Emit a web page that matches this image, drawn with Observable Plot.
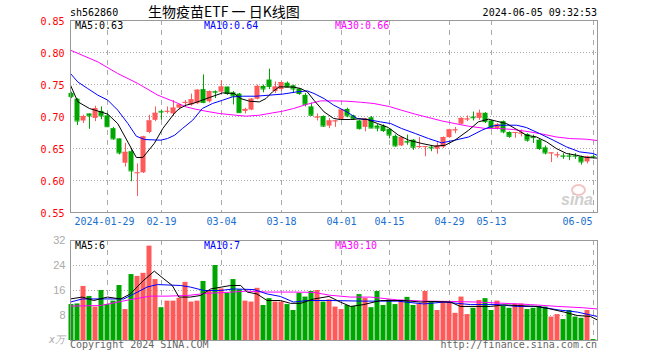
<!DOCTYPE html>
<html><head><meta charset="utf-8">
<script src="https://cdn.jsdelivr.net/npm/d3@7"></script>
<script src="https://cdn.jsdelivr.net/npm/@observablehq/plot@0.6"></script>
<style>
html,body{margin:0;padding:0;background:#fff;}
#wrap{position:relative;width:660px;height:360px;overflow:hidden;font-family:"DejaVu Sans Mono",monospace;font-size:10px;}
.t{position:absolute;white-space:nowrap;line-height:10px;}
#p1,#p2{position:absolute;left:0;}
#p1{top:0}#p2{top:232px}
#logo{position:absolute;left:571px;top:184px;width:11px;height:8px;border:2px solid #f3c4c4;border-radius:50%;}
</style></head><body>
<div id="wrap">
 <div id="p1"></div><div id="p2"></div>
 <div id="logo"></div>
 <div class="t" style="left:561px;top:193px;color:#cfcfcf;font-family:'Liberation Sans';font-style:italic;font-weight:bold;font-size:16px;line-height:14px">sina</div>
 <div class="t" style="left:70px;top:8px;color:#000">sh562860</div>
 <div class="t" style="left:148px;top:4px;width:151px;text-align:center;font-family:'Noto Sans CJK SC';font-size:14px;line-height:14px;color:#000">生物疫苗ETF&nbsp;一&nbsp;日K线图</div>
 <div class="t" style="right:63px;top:8px;color:#000">2024-06-05 09:32:53</div>
 <div class="t" style="left:75px;top:21px;color:#000">MA5:0.63</div>
 <div class="t" style="left:204px;top:21px;color:#0000ff">MA10:0.64</div>
 <div class="t" style="left:335px;top:21px;color:#ff00ff">MA30:0.66</div>
 <div class="t" style="left:75px;top:241px;color:#000">MA5:6</div>
 <div class="t" style="left:204px;top:241px;color:#0000ff">MA10:7</div>
 <div class="t" style="left:335px;top:241px;color:#ff00ff">MA30:10</div>
 <div class="t" style="left:49px;top:335px;color:#aaa;font-style:italic">x万</div>
 <div class="t" style="left:70px;top:340px;color:#666">Copyright 2024 SINA.COM</div>
 <div class="t" style="right:63px;top:340px;color:#666">http://finance.sina.com.cn</div>
</div>
<script>
// ---- data ----
const tickIdx = [6,15,25,35,45,53,63,70,87];
const tickLbl = ["2024-01-29","02-19","03-04","03-18","04-01","04-15","04-29","05-13","06-05"];
const priceTicks = [0.55,0.60,0.65,0.70,0.75,0.80,0.85];
const volTicks = [8,16,24,32];

const open = [0.736,0.727,0.693,0.704,0.697,0.708,0.701,0.681,0.665,0.627,
0.645,0.6115,0.612,0.675,0.694,0.708,0.7075,0.704,0.713,0.721,
0.718,0.720,0.742,0.723,0.739,0.738,0.746,0.737,0.735,0.708,
0.710,0.727,0.747,0.757,0.739,0.742,0.752,0.748,0.743,0.733,
0.715,0.698,0.700,0.685,0.692,0.695,0.711,0.701,0.693,0.683,
0.698,0.685,0.685,0.680,0.669,0.654,0.661,0.663,0.652,0.6525,
0.652,0.649,0.652,0.667,0.678,0.688,0.695,0.699,0.697,0.705,
0.693,0.681,0.692,0.675,0.674,0.673,0.672,0.668,0.663,0.651,
0.642,0.639,0.6385,0.6385,0.6385,0.637,0.629,0.6375];
const high = [0.738,0.728,0.702,0.704,0.716,0.715,0.705,0.683,0.665,0.658,
0.650,0.626,0.669,0.702,0.715,0.710,0.715,0.725,0.719,0.725,
0.735,0.742,0.765,0.740,0.740,0.756,0.746,0.739,0.736,0.713,
0.728,0.749,0.749,0.774,0.754,0.754,0.754,0.749,0.744,0.736,
0.721,0.704,0.701,0.697,0.694,0.711,0.713,0.702,0.694,0.697,
0.700,0.688,0.687,0.681,0.671,0.667,0.671,0.664,0.667,0.653,
0.654,0.659,0.668,0.680,0.683,0.698,0.701,0.707,0.710,0.706,
0.694,0.689,0.693,0.676,0.675,0.679,0.673,0.671,0.664,0.654,
0.643,0.644,0.642,0.642,0.642,0.638,0.638,0.639];
const low = [0.728,0.686,0.689,0.680,0.692,0.695,0.683,0.663,0.640,0.621,
0.598,0.575,0.611,0.673,0.692,0.694,0.704,0.700,0.710,0.715,
0.716,0.719,0.720,0.721,0.728,0.736,0.733,0.718,0.705,0.704,
0.709,0.726,0.737,0.742,0.736,0.739,0.745,0.736,0.733,0.715,
0.700,0.693,0.683,0.681,0.683,0.694,0.698,0.694,0.679,0.676,
0.681,0.676,0.675,0.665,0.652,0.653,0.655,0.647,0.650,0.637,
0.645,0.641,0.650,0.666,0.673,0.687,0.692,0.693,0.694,0.689,
0.679,0.679,0.673,0.666,0.666,0.668,0.660,0.658,0.647,0.640,
0.628,0.635,0.633,0.631,0.633,0.624,0.626,0.634];
const close = [0.731,0.693,0.700,0.701,0.712,0.701,0.684,0.665,0.643,0.644,
0.615,0.612,0.668,0.693,0.705,0.707,0.708,0.713,0.718,0.722,
0.726,0.741,0.722,0.739,0.738,0.746,0.736,0.732,0.706,0.711,
0.727,0.747,0.743,0.747,0.746,0.753,0.746,0.743,0.736,0.719,
0.702,0.699,0.685,0.693,0.693,0.710,0.701,0.696,0.681,0.696,
0.682,0.682,0.678,0.671,0.654,0.667,0.660,0.652,0.653,0.653,
0.651,0.654,0.667,0.679,0.679,0.697,0.696,0.698,0.705,0.692,
0.683,0.687,0.676,0.669,0.675,0.674,0.663,0.667,0.650,0.643,
0.643,0.640,0.638,0.638,0.638,0.629,0.637,0.637];
const volume = [11.5,11.7,17.3,14.1,10.7,16.0,11.5,12.6,17.6,9.9,
21.1,20.5,21.5,30.2,19.5,10.5,12.6,12.6,13.5,18.6,
12.3,12.6,18.9,15.7,24.0,16.5,15.1,19.5,16.2,12.6,
12.3,16.7,11.2,13.4,12.3,12.3,11.5,9.6,15.1,13.9,
15.7,16.0,12.3,13.0,10.7,9.9,11.2,10.9,14.7,13.5,
10.5,15.7,11.2,13.0,11.5,12.8,13.8,11.2,11.5,15.7,
12.3,9.6,12.3,12.3,8.7,13.9,8.3,10.3,12.8,13.4,
9.6,12.6,10.9,10.3,11.7,11.7,9.9,10.3,10.9,10.7,
7.5,8.3,6.7,9.6,7.5,7.1,9.6,0.3];

// moving-average lines at positions along the x axis: [position, value]
const ma5 = [[-0.17,0.749],[1.05,0.723],[3,0.7125],[4.95,0.707],[6.05,0.7036],[7.7,0.689],[9.4,0.660],[10.8,0.636],[11.9,0.636],[13.8,0.658],[15.2,0.681],[17.2,0.7056],[18,0.7125],[19.1,0.7177],[20.2,0.7203],[21.8,0.7255],[23,0.7297],[25.2,0.7369],[27.1,0.736],[28.2,0.728],[29.6,0.724],[31.3,0.7228],[32.4,0.728],[33.5,0.7385],[34.6,0.7463],[37,0.746],[38.2,0.7437],[39.3,0.7385],[40.4,0.7255],[42.1,0.7072],[43.7,0.6969],[44.8,0.6953],[46.5,0.6953],[47.9,0.6963],[49.3,0.6953],[51,0.689],[52.8,0.6828],[54.5,0.6708],[56.2,0.663],[58.4,0.6578],[60.6,0.6536],[62.3,0.6552],[63.9,0.663],[66.2,0.6786],[67.8,0.6916],[69.5,0.6958],[70.8,0.6927],[72.5,0.689],[74.2,0.6797],[75.8,0.6708],[77.5,0.668],[79.2,0.6603],[80.8,0.650],[82.5,0.6422],[84.2,0.6395],[85.8,0.636],[87.6,0.635]];
const ma10 = [[-0.17,0.7672],[1.05,0.754],[2.7,0.7437],[4.4,0.7333],[6.05,0.7255],[7.7,0.71],[9.4,0.689],[10.8,0.6692],[12.2,0.664],[14.9,0.663],[16,0.6656],[17.2,0.6708],[18.5,0.6813],[20.2,0.6942],[21.8,0.7125],[23.5,0.7203],[25.2,0.7255],[26.8,0.7306],[28.5,0.7317],[30.7,0.7317],[32.9,0.7333],[35.2,0.735],[37.6,0.7385],[39.3,0.740],[40.4,0.736],[42.1,0.728],[43.7,0.7177],[45.9,0.7072],[47.6,0.6969],[49.3,0.6953],[51.5,0.6916],[53.2,0.689],[55,0.6813],[57.3,0.6734],[59.5,0.6656],[61.7,0.6588],[63.9,0.663],[66.2,0.668],[68.4,0.6786],[70,0.6848],[71.2,0.6864],[74.2,0.6864],[75.8,0.6828],[78,0.6734],[80.3,0.663],[82.5,0.6525],[84.7,0.6447],[86.9,0.6422],[87.6,0.6395]];
const ma30 = [[-0.17,0.8036],[4.4,0.7853],[7.7,0.7672],[11.05,0.7516],[14.4,0.7333],[17.2,0.7228],[19.1,0.715],[20.7,0.7114],[22.4,0.7083],[24.6,0.7047],[27.4,0.702],[29.1,0.7005],[31.3,0.702],[33.5,0.7056],[35.2,0.7083],[37,0.7125],[39.3,0.7192],[41.5,0.7244],[43.7,0.7244],[45.9,0.7239],[48.2,0.7223],[50.4,0.7203],[53,0.7155],[55,0.7098],[57.3,0.7036],[59.5,0.6984],[61.7,0.6931],[63.9,0.689],[66.2,0.6848],[69,0.6813],[71.2,0.6813],[73.6,0.6797],[76.4,0.676],[78.6,0.6723],[80.8,0.668],[83,0.6656],[85.8,0.6645],[87.6,0.6625]];
const vma5 = [[-0.17,13.3],[1.8,13.9],[3.7,12.8],[6,13.9],[8.2,13.3],[9.8,14.9],[12,19.2],[13.8,22.2],[15.4,19.7],[16.8,17.6],[17.9,13.9],[19.8,13.9],[21.5,14.4],[23.2,16.5],[26.5,17.6],[28.2,17.6],[29.3,15.5],[30.9,14.9],[32.6,12.8],[34.8,12.8],[36.5,11.9],[38.2,11.9],[40.4,13.3],[42.9,14.1],[44.8,12.3],[46.5,10.9],[48.7,11.5],[51.5,12.8],[55.4,12.8],[58.2,12.3],[59.8,12.5],[63.2,12.3],[64.8,10.9],[67.6,10.9],[69.8,10.9],[72.1,11.4],[74.3,11.2],[77.6,10.9],[79.8,10.1],[82.1,9.1],[84.3,8.0],[86.5,7.7],[87.6,6.6]];
const vma10 = [[-0.17,12.3],[1.8,13.3],[4.8,13.3],[8.7,13.3],[10.4,14.9],[12.6,17.1],[14.3,17.9],[18.2,17.6],[19.8,17.1],[22.1,16],[24.8,16],[27,16.5],[30.4,16.3],[32.6,14.9],[34.8,14.1],[37,12.3],[39.3,12.8],[43,12.8],[48.7,12.6],[54.3,12.6],[58.7,11.7],[62.1,12.3],[66.5,11.5],[70.9,11.5],[74.3,10.9],[77.6,10.9],[81.1,9.8],[84.3,9.1],[87.6,7.7]];
const vma30 = [[-0.17,11],[4.8,11.2],[10.4,13.3],[13.2,14.2],[15.9,14.2],[19.3,14.4],[22.6,15.1],[25.9,15.4],[29.3,15.8],[32.6,15.5],[37,15.5],[40.4,15.4],[43,14.5],[46.5,13.9],[49.8,13.9],[54.3,13],[58.7,12.6],[63.2,12.5],[67.6,12.3],[72.1,11.9],[76.5,11.5],[81.1,10.9],[85.1,10.5],[87.6,10.1]];

// ---- styling ----
const RED = "#ff5a5a", GREEN = "#00a600", GRID = "#aaaaaa", FRAME = "#999999";
const MONO = "DejaVu Sans Mono";
const X0 = -1/6, X1 = 87 + 2/3;
const HW = 2.5/6;

const candles = open.map((o,i)=>({i, o, h:high[i], l:low[i], c:close[i], v:volume[i], up: close[i] >= o}));
const ups = candles.filter(d=>d.up), downs = candles.filter(d=>!d.up);

function candleMarks(data, color){
  return [
    Plot.ruleX(data, {x:"i", y1:"l", y2:"h", stroke:color, strokeWidth:1}),
    Plot.rect(data, {x1:d=>d.i-HW, x2:d=>d.i+HW, y1:d=>Math.min(d.o,d.c), y2:d=>Math.max(d.o,d.c), fill:color}),
    Plot.ruleY(data, {x1:d=>d.i-HW, x2:d=>d.i+HW, y:"c", stroke:color, strokeWidth:1})
  ];
}
const lineOpts = (color)=>({x:d=>d[0], y:d=>d[1], stroke:color, strokeWidth:1});

const price = Plot.plot({
  width:660, height:232, marginLeft:70, marginRight:63, marginTop:20, marginBottom:20,
  x:{domain:[X0,X1], axis:null},
  y:{domain:[0.55,0.85], axis:null},
  style:{background:"transparent", overflow:"visible"},
  marks:[
    Plot.ruleY([0.60,0.65,0.70,0.75,0.80], {stroke:GRID, strokeDasharray:"1,2"}),
    Plot.ruleX(tickIdx, {stroke:GRID, strokeDasharray:"5,5"}),
    ...candleMarks(ups, RED),
    ...candleMarks(downs, GREEN),
    Plot.line(ma30, lineOpts("#ff00ff")),
    Plot.line(ma10, lineOpts("#0000ff")),
    Plot.line(ma5, lineOpts("#000000")),
    Plot.frame({stroke:FRAME}),
    Plot.text(priceTicks, {x:()=>X0, y:d=>d, text:d=>d.toFixed(2), textAnchor:"end", dx:-6, dy:1.5, fill:"#ff0000", fontFamily:MONO, fontSize:10}),
    Plot.text(tickIdx.slice(0,1), {x:d=>d, y:()=>0.55, text:()=>tickLbl[0], dx:-3, dy:9, fill:"#1a6fd0", fontFamily:MONO, fontSize:10}),
    Plot.text(tickIdx.slice(1,-1), {x:d=>d, y:()=>0.55, text:(d,i)=>tickLbl[i+1], dy:9, fill:"#1a6fd0", fontFamily:MONO, fontSize:10}),
    Plot.text(tickIdx.slice(-1), {x:d=>d, y:()=>0.55, text:()=>tickLbl[tickLbl.length-1], textAnchor:"end", dx:-1, dy:9, fill:"#1a6fd0", fontFamily:MONO, fontSize:10})
  ]
});
document.getElementById("p1").appendChild(price);

const vol = Plot.plot({
  width:660, height:112, marginLeft:70, marginRight:63, marginTop:8, marginBottom:4,
  x:{domain:[X0,X1], axis:null},
  y:{domain:[0,32], axis:null},
  style:{background:"transparent", overflow:"visible"},
  marks:[
    Plot.ruleY([8,16,24], {stroke:GRID, strokeDasharray:"1,2"}),
    Plot.ruleX(tickIdx, {stroke:GRID, strokeDasharray:"5,5"}),
    Plot.rect(ups, {x1:d=>d.i-HW, x2:d=>d.i+HW, y1:()=>0, y2:"v", fill:RED}),
    Plot.rect(downs, {x1:d=>d.i-HW, x2:d=>d.i+HW, y1:()=>0, y2:"v", fill:GREEN}),
    Plot.line(vma30, lineOpts("#ff00ff")),
    Plot.line(vma10, lineOpts("#0000ff")),
    Plot.line(vma5, lineOpts("#000000")),
    Plot.frame({stroke:FRAME}),
    Plot.text(volTicks, {x:()=>X0, y:d=>d, text:d=>String(d), textAnchor:"end", dx:-5, fill:"#aaaaaa", fontFamily:"Liberation Sans", fontSize:11})
  ]
});
document.getElementById("p2").appendChild(vol);
</script>
</body></html>
